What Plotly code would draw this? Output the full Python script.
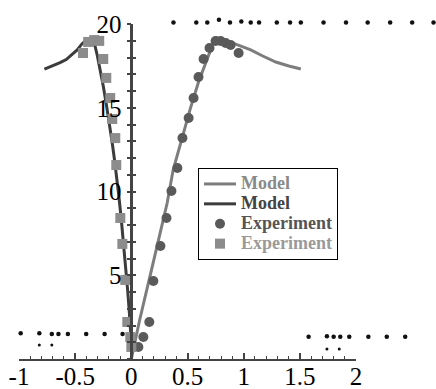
import plotly.graph_objects as go

# Model curves
model_right_x = [0.0, 0.074, 0.179, 0.25, 0.319, 0.372, 0.438, 0.527, 0.598, 0.679, 0.723, 0.759,
                 0.839, 0.946, 1.063, 1.17, 1.286, 1.402, 1.509]
model_right_y = [0.0, 2.33, 5.31, 7.28, 9.31, 11.28, 12.9, 14.99, 16.54, 17.97, 18.75, 19.16,
                 19.04, 18.75, 18.45, 18.09, 17.73, 17.49, 17.31]

model_left_x = [-0.774, -0.705, -0.634, -0.58, -0.529, -0.482, -0.44, -0.402, -0.366, -0.33, -0.304,
                -0.277, -0.25, -0.223, -0.196, -0.17, -0.152, -0.129, -0.112, -0.089, -0.069, -0.049,
                -0.033, -0.018, -0.006, 0.004, 0.0]
model_left_y = [17.31, 17.49, 17.69, 17.88, 18.15, 18.45, 18.81, 19.04, 19.07, 18.87, 18.15,
                17.25, 16.3, 15.22, 14.15, 12.9, 12.0, 10.87, 9.79, 8.3, 6.93, 5.43,
                4.12, 2.81, 1.61, 0.54, 0.0]

# Experiments
exp_circle_x = [0.0625, 0.107, 0.16, 0.196, 0.259, 0.313, 0.357, 0.41, 0.455, 0.51, 0.554,
                0.598, 0.643, 0.696, 0.75, 0.795, 0.84, 0.884, 0.955]
exp_circle_y = [0.72, 1.31, 2.21, 4.66, 6.75, 8.42, 10.03, 11.4, 13.19, 14.39, 15.58,
                16.84, 17.91, 18.57, 18.99, 18.99, 18.87, 18.75, 18.27]

exp_square_x = [-0.43, -0.384, -0.33, -0.286, -0.25, -0.223, -0.188, -0.17, -0.143, -0.134,
                -0.098, -0.08, -0.054, -0.036, -0.009, 0.0]
exp_square_y = [18.27, 18.93, 19.04, 18.99, 17.91, 16.78, 15.58, 14.33, 13.19, 11.58,
                8.42, 6.87, 4.72, 2.21, 1.31, 0.72]

# Stray dots in the picture
top_dots_x = [0.375, 0.578, 0.676, 0.78, 0.878, 0.979, 1.063, 1.137, 1.295, 1.413, 1.509,
              1.711, 1.911, 2.104, 2.304, 2.5, 2.69]
top_dots_y = [20.09, 20.09, 20.09, 20.25, 20.09, 20.15, 20.09, 20.09, 20.09, 20.09, 20.09,
              20.09, 20.09, 20.09, 20.09, 20.09, 20.09]
bl_dots_x = [-0.985, -0.819, -0.708, -0.649, -0.565, -0.402, -0.238, -0.078,
             1.578, 1.741, 1.801, 1.860, 1.940, 2.110, 2.274, 2.438]
bl_dots_y = [1.53, 1.53, 1.50, 1.50, 1.50, 1.50, 1.50, 1.50,
             1.33, 1.36, 1.33, 1.33, 1.33, 1.33, 1.33, 1.33]
small_dots_x = [-0.819, -0.708, 1.741, 1.851]
small_dots_y = [0.84, 0.84, 0.6, 0.6]

x_ticks = [-1, -0.5, 0, 0.5, 1, 1.5, 2]
x_ticktext = ["-1", "-0.5", "0", "0.5", "1", "1.5", "2"]
y_ticks = [5, 10, 15, 20]
y_ticktext = ["5", "10", "15", "20"]

legend_names = ["Model", "Model", "Experiment", "Experiment"]
legend_colors = ["#8a8a8a", "#444444", "#555555", "#9a9a9a"]

FONT = "'Liberation Serif', 'Times New Roman', Times, serif"
AX = "#444444"


def lname(i):
    return '<span style="color:%s;font-size:18px">%s</span>' % (legend_colors[i], legend_names[i])


# geometry: plot area spans px 19..436 horizontally and 10..359 vertically
W_PLOT = 417.0
H_PLOT = 349.0
X_AX_FRAC = 337.0 / W_PLOT
Y_AX_FRAC = 335.0 / H_PLOT
X_FULL = [-1, -1 + 3.0 / X_AX_FRAC]
Y_FULL = [0, 20.0 / Y_AX_FRAC]

fig = go.Figure()
fig.add_trace(go.Scatter(x=model_right_x, y=model_right_y, mode="lines",
                         line=dict(color="#7d7d7d", width=3), name=lname(0)))
fig.add_trace(go.Scatter(x=model_left_x, y=model_left_y, mode="lines",
                         line=dict(color="#3c3c3c", width=3), name=lname(1)))
fig.add_trace(go.Scatter(x=exp_circle_x, y=exp_circle_y, mode="markers", cliponaxis=False,
                         marker=dict(symbol="circle", size=10, color="#5a5a5a"), name=lname(2)))
fig.add_trace(go.Scatter(x=exp_square_x, y=exp_square_y, mode="markers", cliponaxis=False,
                         marker=dict(symbol="square", size=10, color="#8c8c8c"),
                         yaxis="y2", name=lname(3)))
for dx, dy, sz in [(top_dots_x, top_dots_y, 4.5), (bl_dots_x, bl_dots_y, 4.5),
                   (small_dots_x, small_dots_y, 3)]:
    fig.add_trace(go.Scatter(x=dx, y=dy, mode="markers", cliponaxis=False,
                             marker=dict(size=sz, color="#111111"), showlegend=False,
                             hoverinfo="skip", xaxis="x2", yaxis="y3"))

tickfont = dict(family=FONT, size=25, color="black")
fig.update_layout(
    width=436, height=389,
    margin=dict(l=19, r=0, t=10, b=30),
    paper_bgcolor="white", plot_bgcolor="rgba(0,0,0,0)",
    font=dict(family=FONT, color="black"),
    xaxis=dict(range=[-1, 2], domain=[0, X_AX_FRAC], showgrid=False, zeroline=False, showline=True,
               linecolor=AX, linewidth=2, ticks="inside", ticklen=6, tickwidth=1.5,
               tickcolor=AX, tickvals=x_ticks, ticktext=x_ticktext, tickfont=tickfont,
               ticklabelstandoff=-6,
               minor=dict(dtick=0.1, tick0=0, ticks="inside", ticklen=3, tickcolor=AX, tickwidth=1),
               anchor="y", automargin=False),
    yaxis=dict(range=[0, 20], domain=[0, Y_AX_FRAC], showgrid=False, zeroline=False, showline=True,
               linecolor=AX, linewidth=2.5, anchor="free", position=(1 / 3) * X_AX_FRAC,
               ticks="outside", ticklen=4, tickwidth=1.5, tickcolor=AX,
               tickvals=y_ticks, ticktext=y_ticktext, tickfont=tickfont, automargin=False,
               minor=dict(dtick=1, tick0=0, ticks="outside", ticklen=4, tickcolor=AX, tickwidth=1.5)),
    yaxis2=dict(range=[0, 20], overlaying="y", anchor="free", position=(1 / 3) * X_AX_FRAC,
                showgrid=False, zeroline=False, showline=False, showticklabels=False,
                ticks="inside", ticklen=4, tickwidth=1.5, tickcolor=AX, tickvals=y_ticks,
                automargin=False,
                minor=dict(dtick=1, tick0=0, ticks="inside", ticklen=4, tickcolor=AX, tickwidth=1.5)),
    xaxis2=dict(range=X_FULL, domain=[0, 1], anchor="y3", visible=False, automargin=False),
    yaxis3=dict(range=Y_FULL, domain=[0, 1], anchor="x2", visible=False, automargin=False),
    legend=dict(x=(198 - 19) / W_PLOT, y=(359 - 168) / H_PLOT, xanchor="left", yanchor="top",
                bgcolor="white", bordercolor="black", borderwidth=1,
                font=dict(family=FONT, size=13, weight="bold"),
                itemwidth=32, tracegroupgap=0),
    showlegend=True,
)

fig.write_html("out.html")
